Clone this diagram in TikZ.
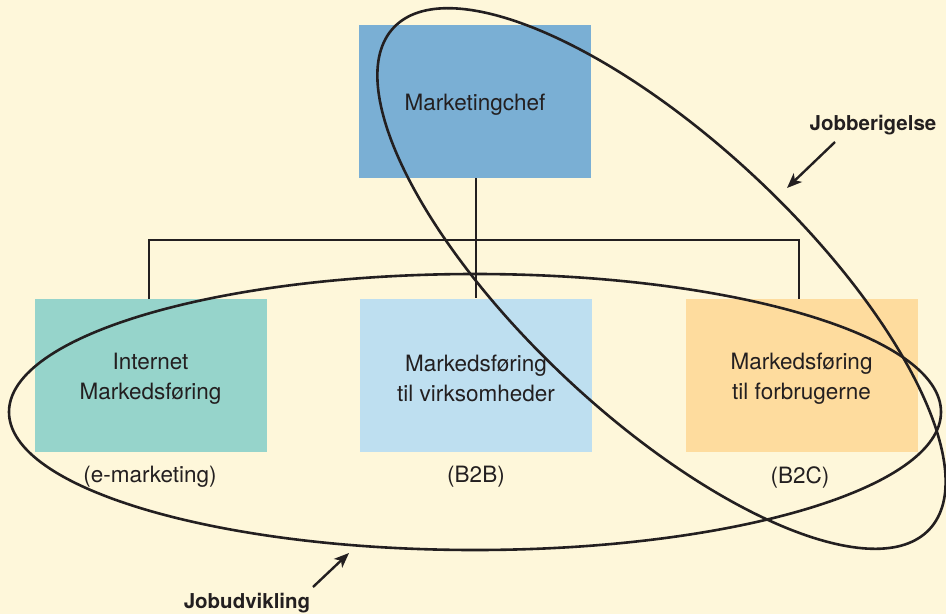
\documentclass[tikz,border=0pt]{standalone}
\usepackage{fontspec}
\setmainfont{TeX Gyre Heros}
\usetikzlibrary{arrows.meta}

\definecolor{paper}{HTML}{FEF7DA}
\definecolor{ink}{HTML}{231F20}
\definecolor{chefblue}{HTML}{7AAFD4}
\definecolor{webteal}{HTML}{96D4CB}
\definecolor{bizblue}{HTML}{BEDFF0}
\definecolor{consorange}{HTML}{FEDC9E}

\tikzset{
  unitbox/.style={minimum width=232pt, minimum height=153pt, inner sep=0pt},
  unittext/.style={align=center, text=ink, inner sep=0pt,
    font=\fontsize{22.5}{30}\selectfont},
  tagtext/.style={text=ink, font=\fontsize{22.5}{25}\selectfont, inner sep=0pt},
  callout/.style={text=ink, font=\bfseries\fontsize{20.5}{24}\selectfont, inner sep=0pt},
  tree/.style={draw=ink, line width=2.4pt},
  loop/.style={draw=ink, line width=2.6pt},
  pointer/.style={draw=ink, line width=2.4pt, -{Stealth[length=15pt, width=12pt, inset=4pt]}},
}

\begin{document}
\begin{tikzpicture}[x=1pt, y=-1pt]
  \useasboundingbox (0,0) rectangle (946,614);
  \fill[paper] (0,0) rectangle (946,614);

  % organisation boxes
  \node[unitbox, fill=chefblue] (chef) at (474.5,101.5) {};
  \node[unitbox, fill=webteal] (web) at (150.5,375) {};
  \node[unitbox, fill=bizblue] (biz) at (475.5,375) {};
  \node[unitbox, fill=consorange] (cons) at (801.5,375) {};

  % box captions
  \node[unittext] (cheftext) at (475,104.5) {Marketingchef};
  \node[unittext] (webtext) at (150.5,378.5) {Internet\\Markedsføring};
  \node[unittext] (biztext) at (476,378.5) {Markedsføring\\til virksomheder};
  \node[unittext] (constext) at (801.5,378.5) {Markedsføring\\til forbrugerne};

  % short tags under the boxes
  \node[tagtext] (webtag) at (150,477) {(e-marketing)};
  \node[tagtext] (biztag) at (476,477) {(B2B)};
  \node[tagtext] (constag) at (800,477) {(B2C)};

  % reporting lines
  \coordinate (bar) at (476,240);
  \draw[tree] (chef.south -| bar) -- (biz.north -| bar);
  \draw[tree] (149,299) |- (799,240) -- (799,299);

  % job development (horizontal) and job enrichment (diagonal)
  \draw[loop] (475,412) ellipse [x radius=466, y radius=138];
  \draw[loop, shift={(661.5,278.5)}, rotate=-43.1] (0,0) ellipse [x radius=367, y radius=138];

  % callouts
  \node[callout] (enrich) at (873,125) {Jobberigelse};
  \node[callout] (develop) at (247,603) {Jobudvikling};
  \coordinate (enrichtail) at (835,142);
  \coordinate (enrichtip) at (787,188);
  \coordinate (developtail) at (313,587);
  \coordinate (developtip) at (349,553);
  \draw[pointer] (enrichtail) -- (enrichtip);
  \draw[pointer] (developtail) -- (developtip);
\end{tikzpicture}
\end{document}
